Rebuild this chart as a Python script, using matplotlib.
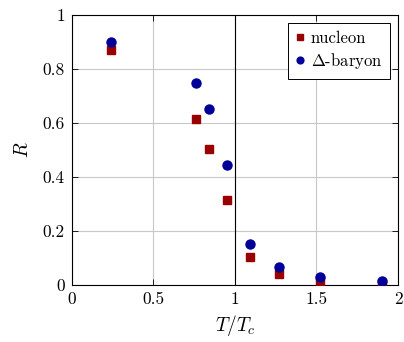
import matplotlib
matplotlib.use("Agg")
import matplotlib.pyplot as plt

plt.rcParams['font.family'] = 'serif'
plt.rcParams['font.serif'] = ['cmr10', 'DejaVu Serif']
plt.rcParams['mathtext.fontset'] = 'cm'
plt.rcParams['axes.unicode_minus'] = False

# data
T_nuc = [0.24, 0.76, 0.84, 0.95, 1.09, 1.27, 1.52, 1.90]
R_nuc = [0.870, 0.615, 0.504, 0.315, 0.103, 0.041, 0.016, 0.006]
T_delta = [0.24, 0.76, 0.84, 0.95, 1.09, 1.27, 1.52, 1.90]
R_delta = [0.899, 0.749, 0.652, 0.443, 0.152, 0.067, 0.031, 0.015]

xticks = [0, 0.5, 1, 1.5, 2]
xlabels = ['0', '0.5', '1', '1.5', '2']
yticks = [0, 0.2, 0.4, 0.6, 0.8, 1]
ylabels = ['0', '0.2', '0.4', '0.6', '0.8', '1']

fig = plt.figure(figsize=(4.04, 3.42), dpi=100)
ax = fig.add_axes([0.178, 0.167, 0.807, 0.789])

ax.grid(True, color='#c8c8c8', linewidth=0.8)
ax.set_axisbelow(True)
ax.axvline(1, color='black', linewidth=0.8, zorder=1)

ax.plot(T_nuc, R_nuc, 's', color='#990000', markersize=6, label='nucleon', zorder=3)
ax.plot(T_delta, R_delta, 'o', color='#000099', markersize=6.5, label=r'$\Delta$-baryon', zorder=3)

ax.set_xlim(0, 2)
ax.set_ylim(0, 1)
ax.set_xticks(xticks)
ax.set_xticklabels(xlabels, fontsize=12.5)
ax.set_yticks(yticks)
ax.set_yticklabels(ylabels, fontsize=12.5)
ax.tick_params(direction='in', top=True, right=True, length=4, width=0.6, pad=5)
for s in ax.spines.values():
    s.set_linewidth(0.8)

ax.set_xlabel(r'$T/T_c$', fontsize=14, labelpad=4)
ax.set_ylabel(r'$R$', fontsize=14, labelpad=8)

leg = ax.legend(loc='upper right', fontsize=12, fancybox=False, edgecolor='black',
                framealpha=1, handlelength=0.5, handletextpad=0.4, borderpad=0.45,
                labelspacing=0.3, borderaxespad=0.5, markerscale=0.75)
leg.get_frame().set_linewidth(0.7)

fig.savefig('out.png', dpi=100)
